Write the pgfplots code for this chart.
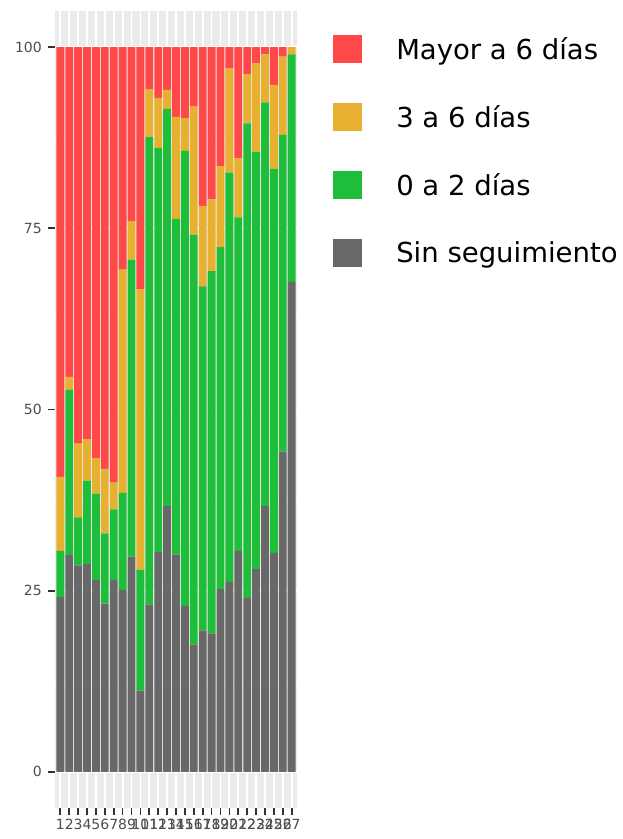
\documentclass[border=0pt]{standalone}
\usepackage{pgfplots}
\pgfplotsset{compat=1.18}
\usepackage{pgfplotstable}
\usepackage{fontspec}
\setmainfont{DejaVu Sans}
\definecolor{cred}{RGB}{255,72,72}
\definecolor{cyel}{RGB}{232,176,48}
\definecolor{cgrn}{RGB}{30,190,58}
\definecolor{cgry}{RGB}{104,104,104}
\definecolor{bgc}{RGB}{235,235,235}
\definecolor{tcol}{RGB}{77,77,77}
\pgfplotstableread{
x grey green yellow red
1 24.1 6.4 10.2 59.3
2 29.9 22.8 1.8 45.5
3 28.5 6.6 10.2 54.7
4 28.7 11.5 5.7 54.1
5 26.5 11.9 4.9 56.7
6 23.2 9.7 8.9 58.2
7 26.5 9.7 3.7 60.1
8 25.1 13.4 30.8 30.7
9 29.7 41.0 5.3 24.0
10 11.2 16.7 38.7 33.4
11 23.1 64.5 6.6 5.8
12 30.3 55.8 6.9 7.0
13 36.7 54.8 2.6 5.9
14 30.0 46.3 14.1 9.6
15 22.9 62.8 4.5 9.8
16 17.6 56.5 17.7 8.2
17 19.5 47.5 11.1 21.9
18 19.1 50.0 9.9 21.0
19 25.2 47.2 11.2 16.4
20 26.2 56.5 14.4 2.9
21 30.5 46.0 8.2 15.3
22 24.0 65.5 6.8 3.7
23 28.0 57.6 12.2 2.2
24 36.7 55.7 6.6 1.0
25 30.2 53.0 11.6 5.2
26 44.2 43.7 10.8 1.3
27 67.6 31.4 1.0 0.0
}\data
\begin{document}
\begin{tikzpicture}
\begin{axis}[
  name=ax,
  scale only axis,
  width=242pt, height=797pt,
  xmin=0.4, xmax=27.6, ymin=-5, ymax=105,
  ybar stacked, bar width=0.88,
  axis background/.style={fill=bgc},
  axis line style={draw=none},
  tick pos=left,
  tick align=outside,
  major tick length=7pt,
  minor tick length=0pt,
  xtick={1,...,27},
  ytick={0,25,50,75,100},
  minor ytick={12.5,37.5,62.5,87.5},
  xmajorgrids, ymajorgrids, yminorgrids,
  major grid style={white, line width=1.8pt},
  minor grid style={white, line width=0.9pt},
  xtick style={draw=black!80, line width=1.7pt},
  ytick style={draw=black!80, line width=1.8pt},
  /pgf/number format/assume math mode=true,
  ticklabel style={font=\fontsize{14}{16}\selectfont, text=tcol},
  yticklabel style={inner sep=0pt, xshift=-6pt},
  xticklabel style={inner sep=0pt, yshift=-4pt},
  legend image code/.code={\fill[#1, draw=none] (0pt,-14pt) rectangle (29pt,14pt);},
  reverse legend,
  legend cell align=left,
  legend style={draw=none, fill=none, inner sep=0pt,
    at={(axis description cs:1.149,0.970)}, anchor=north west,
    font=\fontsize{27.5}{30}\selectfont,
    row sep=40pt, column sep=34pt,
    nodes={inner sep=0pt}},
]
\addplot[fill=cgry, draw=none] table[x=x, y=grey]{\data};
\addlegendentry{Sin seguimiento}
\addplot[fill=cgrn, draw=none] table[x=x, y=green]{\data};
\addlegendentry{0 a 2 días}
\addplot[fill=cyel, draw=none] table[x=x, y=yellow]{\data};
\addlegendentry{3 a 6 días}
\addplot[fill=cred, draw=none] table[x=x, y=red]{\data};
\addlegendentry{Mayor a 6 días}
\coordinate (BL) at (rel axis cs:0,0);
\end{axis}
\pgfresetboundingbox
\path[use as bounding box] ([shift={(-55pt,-31pt)}]BL) rectangle ([shift={(568pt,808pt)}]BL);
\end{tikzpicture}
\end{document}
